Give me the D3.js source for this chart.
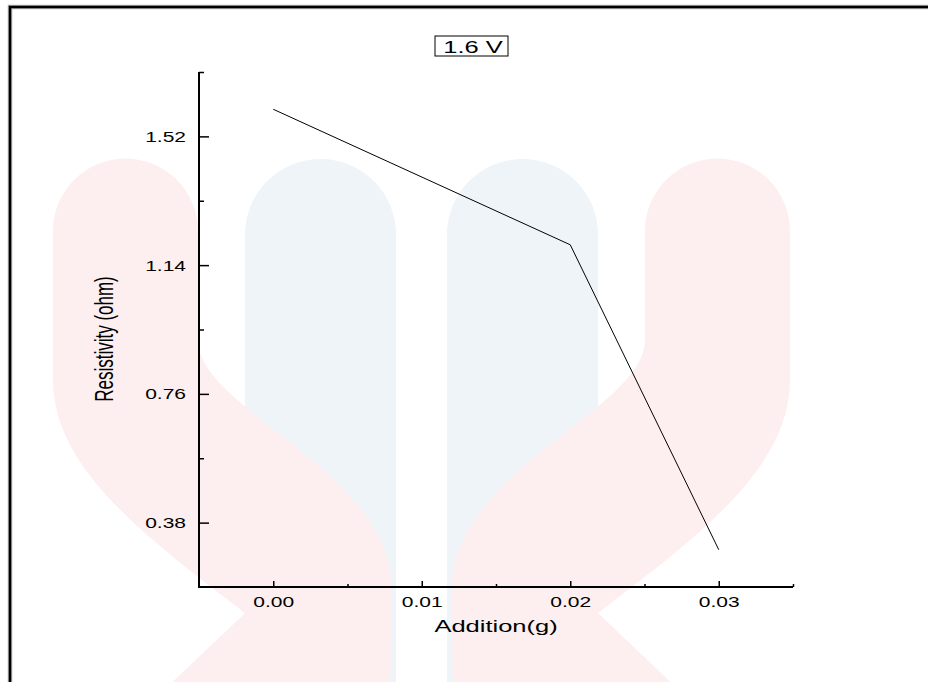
<!DOCTYPE html>
<html>
<head>
<meta charset="utf-8">
<script src="https://cdn.jsdelivr.net/npm/d3@7"></script>
<style>
  body { margin: 0; background: #fff; }
  svg { display: block; font-family: "Liberation Sans", Arial, sans-serif; }
</style>
</head>
<body>
<div id="chart"></div>
<script>
// values
const additions = [0.00, 0.02, 0.03];
const resistivity = [1.60, 1.20, 0.30];
const xTicks = [0.00, 0.01, 0.02, 0.03];
const xMinor = [0.005, 0.015, 0.025, 0.035];
const yTicks = [0.38, 0.76, 1.14, 1.52];
const yMinor = [0.57, 0.95, 1.33, 1.71];
const title = '1.6 V';
const xTitle = 'Addition(g)';
const yTitle = 'Resistivity (ohm)';

const width = 928, height = 682;
const plot = { left: 199, right: 793, top: 72, bottom: 587 };
const stretch = 1.5; // the source picture is widened horizontally

const svg = d3.select('#chart').append('svg')
  .attr('width', width)
  .attr('height', height);

// faint watermark behind the plot
const wm = svg.append('g').attr('class', 'watermark');
const pillar = (x0, x1) => {
  const r = (x1 - x0) / 2;
  return `M${x0},${159 + r} A${r},${r} 0 0 1 ${x1},${159 + r} L${x1},690 L${x0},690 Z`;
};
wm.append('path').attr('d', pillar(245, 396)).attr('fill', '#eff4f9');
wm.append('path').attr('d', pillar(447, 598)).attr('fill', '#eff4f9');
const leftRed = 'M53,231 A72.5,72.5 0 0 1 198,231 L198,340 C198,410 392,470 392,590 L390,690 L164,690 L245,613 C150,540 53,470 53,380 Z';
wm.append('path').attr('d', leftRed).attr('fill', '#fdefef');
wm.append('path').attr('d', leftRed)
  .attr('transform', 'translate(843,0) scale(-1,1)')
  .attr('fill', '#fdefef');

// frame
svg.append('rect')
  .attr('x', 10).attr('y', 7)
  .attr('width', 1000).attr('height', 1000)
  .attr('fill', 'none')
  .attr('stroke', '#b0b0b0')
  .attr('stroke-width', 4.5);
svg.append('rect')
  .attr('x', 10).attr('y', 7)
  .attr('width', 1000).attr('height', 1000)
  .attr('fill', 'none')
  .attr('stroke', '#000')
  .attr('stroke-width', 2.5);

const x = d3.scaleLinear().domain([-0.005, 0.035]).range([plot.left, plot.right]);
const y = d3.scaleLinear().domain([0.19, 1.71]).range([plot.bottom, plot.top]);

// title box
const tg = svg.append('g').attr('transform', 'translate(471.5,0)');
tg.append('rect')
  .attr('x', -36.5).attr('y', 36)
  .attr('width', 73).attr('height', 20)
  .attr('fill', 'none')
  .attr('stroke', '#000')
  .attr('stroke-width', 1);
tg.append('text')
  .attr('text-anchor', 'middle')
  .attr('transform', `translate(1.5,52.9) scale(${stretch},1)`)
  .attr('font-size', 17)
  .text(title);

// x axis
const xAxisG = svg.append('g')
  .attr('class', 'axis axis-x')
  .attr('transform', `translate(0,${plot.bottom})`);
xAxisG.call(d3.axisBottom(x).tickValues(xTicks).tickSizeInner(-6).tickSizeOuter(0)
  .tickFormat(d3.format('.2f')));
xAxisG.selectAll('.tick line').attr('stroke-width', 1.5);
xAxisG.selectAll('.tick text')
  .attr('y', 0).attr('dy', 0)
  .attr('font-size', 14)
  .attr('fill', '#000')
  .attr('transform', `translate(0,19.7) scale(${stretch},1)`);
xAxisG.select('.domain').remove();

const xMinorG = svg.append('g')
  .attr('transform', `translate(0,${plot.bottom})`)
  .call(d3.axisBottom(x).tickValues(xMinor).tickSizeInner(-3).tickSizeOuter(0).tickFormat(''));
xMinorG.selectAll('.tick line').attr('stroke-width', 1.5);
xMinorG.select('.domain').remove();

// y axis
const yAxisG = svg.append('g')
  .attr('class', 'axis axis-y')
  .attr('transform', `translate(${plot.left},0)`);
yAxisG.call(d3.axisLeft(y).tickValues(yTicks).tickSizeInner(-10).tickSizeOuter(0)
  .tickFormat(d3.format('.2f')));
yAxisG.selectAll('.tick line').attr('stroke-width', 1.5);
yAxisG.selectAll('.tick text')
  .attr('x', 0).attr('dy', 0)
  .attr('font-size', 14)
  .attr('fill', '#000')
  .attr('transform', `translate(-13,5) scale(${stretch},1)`);
yAxisG.select('.domain').remove();

const yMinorG = svg.append('g')
  .attr('transform', `translate(${plot.left},0)`)
  .call(d3.axisLeft(y).tickValues(yMinor).tickSizeInner(-5).tickSizeOuter(0).tickFormat(''));
yMinorG.selectAll('.tick line').attr('stroke-width', 1.5);
yMinorG.select('.domain').remove();

// axis lines
svg.append('line')
  .attr('x1', x.range()[0] - 1).attr('x2', x.range()[1])
  .attr('y1', plot.bottom).attr('y2', plot.bottom)
  .attr('stroke', '#000').attr('stroke-width', 2);
svg.append('line')
  .attr('x1', plot.left).attr('x2', plot.left)
  .attr('y1', y.range()[1]).attr('y2', y.range()[0] + 1)
  .attr('stroke', '#000').attr('stroke-width', 2);

// axis titles
svg.append('text')
  .attr('text-anchor', 'middle')
  .attr('font-size', 17)
  .attr('transform', `translate(${(plot.left + plot.right) / 2},631.7) scale(${stretch},1)`)
  .text(xTitle);
svg.append('text')
  .attr('text-anchor', 'middle')
  .attr('font-size', 17)
  .attr('transform', `translate(113.3,339) scale(${stretch},1) rotate(-90)`)
  .text(yTitle);

// data line
const points = additions.map((a, i) => [a, resistivity[i]]);
svg.append('path')
  .datum(points)
  .attr('fill', 'none')
  .attr('stroke', '#000')
  .attr('stroke-width', 1)
  .attr('d', d3.line().x(d => x(d[0])).y(d => y(d[1])));
</script>
</body>
</html>
